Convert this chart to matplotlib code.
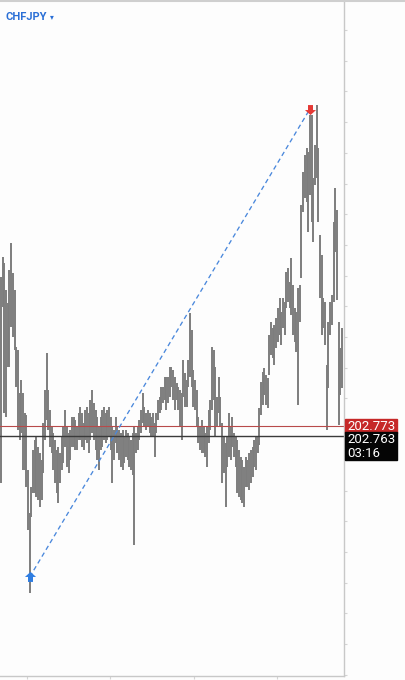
import matplotlib.pyplot as plt
import matplotlib.ticker as mticker
from matplotlib.patches import Rectangle
from matplotlib.path import Path
import numpy as np

#-------------------------------------DATA-------------------------------------#

symbol = "CHFJPY"

# massimi e minimi di ogni barra
highs = [
    202.922, 202.942, 202.936, 202.909, 202.896, 202.929, 202.956, 202.926, 202.909, 202.852,
    202.849, 202.806, 202.819, 202.806, 202.786, 202.784, 202.729, 202.686, 202.712, 202.749,
    202.759, 202.762, 202.752, 202.746, 202.739, 202.776, 202.809, 202.846, 202.809, 202.789,
    202.772, 202.766, 202.759, 202.749, 202.752, 202.746, 202.762, 202.772, 202.789, 202.772,
    202.766, 202.769, 202.782, 202.782, 202.779, 202.772, 202.786, 202.792, 202.786, 202.776,
    202.789, 202.792,
    202.786, 202.799, 202.809, 202.796, 202.789, 202.782, 202.772, 202.782, 202.789, 202.792,
    202.786, 202.789, 202.792, 202.782, 202.772, 202.769, 202.782, 202.772, 202.769, 202.766,
    202.769, 202.762, 202.769, 202.766, 202.762, 202.759, 202.766, 202.772, 202.766, 202.772,
    202.779, 202.789, 202.806, 202.792, 202.786, 202.789, 202.786, 202.782, 202.786, 202.776,
    202.786, 202.799, 202.802, 202.812, 202.812, 202.822, 202.822, 202.822, 202.832, 202.832,
    202.829, 202.822, 202.816, 202.812, 202.809, 202.806, 202.839, 202.826, 202.819, 202.839,
    202.886, 202.869, 202.829, 202.819, 202.809, 202.782, 202.772, 202.779, 202.772, 202.766,
    202.772, 202.789, 202.799, 202.852, 202.849, 202.832, 202.802, 202.822, 202.802, 202.776,
    202.762, 202.756, 202.762, 202.786, 202.772, 202.782, 202.766, 202.762, 202.759, 202.749,
    202.742, 202.739, 202.732, 202.742, 202.739, 202.746, 202.749, 202.752, 202.759, 202.762,
    202.762,
    202.791, 202.817, 202.827, 202.831, 202.824, 202.821, 202.864, 202.877, 202.871, 202.874,
    202.881, 202.891, 202.901, 202.887, 202.901, 202.897, 202.927, 202.931, 202.917, 202.941,
    202.914, 202.891, 202.887, 202.911, 202.914, 202.994, 203.027, 203.044, 203.051, 203.047,
    203.084, 203.084, 203.021, 203.054, 203.094, 203.051, 202.964, 202.944, 202.901, 202.897,
    202.834, 202.877, 202.897, 202.904, 202.977, 203.011, 202.989, 202.877, 202.851, 202.871,
]
lows = [
    202.716, 202.892, 202.786, 202.782, 202.832, 202.832, 202.872, 202.862, 202.849, 202.812,
    202.769, 202.759, 202.766, 202.729, 202.729, 202.712, 202.669, 202.606, 202.682, 202.706,
    202.706, 202.702, 202.699, 202.692, 202.699, 202.726, 202.759, 202.779, 202.769, 202.752,
    202.746, 202.729, 202.716, 202.706, 202.696, 202.716, 202.729, 202.736, 202.752, 202.732,
    202.726, 202.739, 202.752, 202.752, 202.749, 202.749, 202.759, 202.759, 202.752, 202.749,
    202.759, 202.756,
    202.746, 202.759, 202.766, 202.759, 202.749, 202.739, 202.729, 202.749, 202.752, 202.759,
    202.756, 202.759, 202.762, 202.749, 202.716, 202.739, 202.756, 202.746, 202.739, 202.732,
    202.729, 202.736, 202.742, 202.739, 202.732, 202.729, 202.724, 202.654, 202.746, 202.749,
    202.759, 202.766, 202.776, 202.772, 202.769, 202.772, 202.766, 202.762, 202.762, 202.742,
    202.766, 202.779, 202.786, 202.789, 202.796, 202.799, 202.789, 202.796, 202.802, 202.812,
    202.799, 202.789, 202.799, 202.789, 202.772, 202.759, 202.802, 202.792, 202.792, 202.812,
    202.822, 202.812, 202.792, 202.789, 202.772, 202.756, 202.749, 202.746, 202.746, 202.742,
    202.732, 202.756, 202.769, 202.789, 202.799, 202.762, 202.772, 202.786, 202.772, 202.716,
    202.726, 202.692, 202.732, 202.742, 202.739, 202.752, 202.742, 202.732, 202.706, 202.702,
    202.699, 202.696, 202.692, 202.712, 202.712, 202.709, 202.716, 202.722, 202.732, 202.729,
    202.746,
    202.754, 202.784, 202.794, 202.804, 202.794, 202.791, 202.824, 202.844, 202.841, 202.834,
    202.851, 202.857, 202.864, 202.854, 202.871, 202.864, 202.891, 202.897, 202.891, 202.884,
    202.864, 202.857, 202.847, 202.794, 202.877, 202.921, 202.987, 203.001, 202.997, 202.967,
    203.004, 202.977, 202.957, 203.014, 203.021, 202.977, 202.901, 202.864, 202.871, 202.854,
    202.769, 202.811, 202.864, 202.874, 202.897, 202.947, 202.899, 202.774, 202.804, 202.811,
]

# linea di trend (indice barra, prezzo)
trend_start = (17, 202.622)
trend_end = (183, 203.090)

# prezzi delle linee orizzontali
bid_price = 202.773
last_price = 202.763
countdown = "03:16"

#-------------------------------------PLOT-------------------------------------#

idx = np.arange(len(highs))

fig = plt.figure(figsize=(4.05, 6.8), dpi=100, facecolor="#fdfdfd")
ax = fig.add_axes([0, 4 / 680, 344 / 405, 676 / 680])
ax.set_facecolor("#fdfdfd")

# barre
ax.vlines(idx, lows, highs, color="#7d7d7d", lw=1.4)

# linee orizzontali
ax.axhline(bid_price, color="#b84a4a", lw=0.8)
ax.axhline(last_price, color="#3a3a3a", lw=1.0)

# linea di trend tratteggiata
ax.plot([trend_start[0], trend_end[0]], [trend_start[1], trend_end[1]],
        color="#4a88dc", lw=0.95, ls=(0, (3.5, 2.5)))

# marker freccia
arrow = Path([(0, 1), (1, 0.1), (0.45, 0.1), (0.45, -0.8), (-0.45, -0.8),
              (-0.45, 0.1), (-1, 0.1), (0, 1)])
arrow_down = Path(arrow.vertices * [1, -1])
ax.plot(*trend_start, marker=arrow, ms=8, color="#2f7de1", mec="none")
ax.plot(*trend_end, marker=arrow_down, ms=8, color="#e53935", mec="none")

ax.set_xlim(-0.59, 203.2)
ax.set_ylim(202.523, 203.199)

# assi
for s in ["left", "top"]:
    ax.spines[s].set_visible(False)
for s in ["right", "bottom"]:
    ax.spines[s].set_color("#c8c8c8")
    ax.spines[s].set_linewidth(1.0)
ax.yaxis.tick_right()
ax.yaxis.set_major_locator(mticker.FixedLocator(203.169 - 0.0307 * np.arange(22)))
ax.xaxis.set_major_locator(mticker.FixedLocator([15.4, 64.8, 114.2, 163.6]))
ax.tick_params(axis="both", length=2.5, width=0.8, color="#d4d4d4",
               labelright=False, labelleft=False, labelbottom=False)

# etichette di prezzo a destra
tr = ax.get_yaxis_transform()
ax.add_patch(Rectangle((1.003, 202.7665), 0.152, 0.0135, transform=tr,
                       color="#c62828", clip_on=False, zorder=5))
ax.add_patch(Rectangle((1.003, 202.739), 0.152, 0.0275, transform=tr,
                       color="#050505", clip_on=False, zorder=5))
lab = dict(transform=tr, color="white", fontsize=9.5, family=["Roboto", "DejaVu Sans"],
           va="center", ha="left", clip_on=False, zorder=6)
ax.text(1.01, bid_price - 0.0005, f"{bid_price:.3f}", **lab)
ax.text(1.01, 202.7595, f"{last_price:.3f}", **lab)
ax.text(1.01, 202.7455, countdown, **lab)

# titolo simbolo
fig.text(5 / 405, 1 - 17 / 680, symbol, color="#2a6fd6", fontsize=8, fontweight="bold",
         family=["Roboto", "DejaVu Sans"], va="center", ha="left")
fig.text(50 / 405, 1 - 17 / 680, "\u25be", color="#2a6fd6", fontsize=5.5,
         family=["DejaVu Sans"], va="center", ha="left")

# bordo superiore
fig.add_artist(plt.Line2D([0, 1], [1 - 0.5 / 680, 1 - 0.5 / 680], color="#cfcfcf",
                          lw=1.5, transform=fig.transFigure))

fig.savefig("out.png", dpi=100, facecolor=fig.get_facecolor())
